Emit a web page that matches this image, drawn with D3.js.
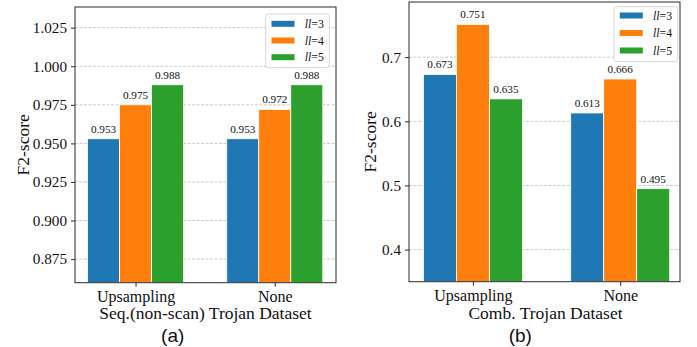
<!DOCTYPE html>
<html>
<head>
<meta charset="utf-8">
<script src="https://cdn.jsdelivr.net/npm/d3@7"></script>
<style>
  html, body { margin: 0; padding: 0; background: #fff; }
  svg { display: block; }
</style>
</head>
<body>
<svg id="chart" width="697" height="347"></svg>
<script>
// ---- data ----
const categories = ["Upsampling", "None"];
const seriesNames = ["3", "4", "5"];            // ll = 3,4,5
const seriesColors = ["#1f77b4", "#ff7f0e", "#2ca02c"];

const seqLL3 = [0.953, 0.953];
const seqLL4 = [0.975, 0.972];
const seqLL5 = [0.988, 0.988];
const seqTicks = [0.875, 0.900, 0.925, 0.950, 0.975, 1.000, 1.025];

const combLL3 = [0.673, 0.613];
const combLL4 = [0.751, 0.666];
const combLL5 = [0.635, 0.495];
const combTicks = [0.4, 0.5, 0.6, 0.7];

const svg = d3.select("#chart");
const serif = "'Liberation Serif','Times New Roman',serif";
const sans = "'Liberation Sans',Arial,sans-serif";

function drawPanel(cfg) {
  const g = svg.append("g");
  const x = d3.scaleLinear().domain(cfg.xDomain).range([cfg.left, cfg.right]);
  const y = d3.scaleLinear().domain(cfg.yDomain).range([cfg.bottom, cfg.top]);

  // grid
  g.append("g").selectAll("line").data(cfg.ticks).join("line")
    .attr("x1", cfg.left).attr("x2", cfg.right)
    .attr("y1", d => y(d)).attr("y2", d => y(d))
    .attr("stroke", "#c4c4c4").attr("stroke-width", 0.9)
    .attr("stroke-dasharray", "3,1.5");

  // bars
  const series = cfg.series;
  series.forEach((vals, si) => {
    const off = (si - 1) * cfg.barW;
    g.append("g").selectAll("rect").data(vals).join("rect")
      .attr("x", (d, i) => x(i + off - cfg.barW / 2))
      .attr("width", x(cfg.barW) - x(0))
      .attr("y", d => y(d))
      .attr("height", d => cfg.bottom - y(d))
      .attr("fill", seriesColors[si])
      .attr("stroke", "#fff").attr("stroke-width", 0.8);
    g.append("g").selectAll("text").data(vals).join("text")
      .attr("x", (d, i) => x(i + off))
      .attr("y", d => y(d) - 6)
      .attr("text-anchor", "middle")
      .attr("font-family", serif).attr("font-size", 11.2)
      .attr("fill", "#111")
      .text(d => cfg.fmtVal(d));
  });

  // frame
  g.append("rect").attr("x", cfg.left).attr("y", cfg.top)
    .attr("width", cfg.right - cfg.left).attr("height", cfg.bottom - cfg.top)
    .attr("fill", "none").attr("stroke", "#2a2a2a").attr("stroke-width", 1);

  // y axis
  const ya = d3.axisLeft(y).tickValues(cfg.ticks).tickFormat(cfg.fmtTick)
    .tickSize(4).tickPadding(4);
  const yg = g.append("g").attr("transform", `translate(${cfg.left},0)`).call(ya);
  yg.select(".domain").remove();
  yg.selectAll(".tick line").attr("stroke", "#2a2a2a");
  yg.selectAll("text").attr("font-family", serif).attr("font-size", 15.2).attr("fill", "#111");

  // x axis
  const xa = d3.axisBottom(x).tickValues([0, 1]).tickFormat(i => categories[i])
    .tickSize(4).tickPadding(4);
  const xg = g.append("g").attr("transform", `translate(0,${cfg.bottom})`).call(xa);
  xg.select(".domain").remove();
  xg.selectAll(".tick line").attr("stroke", "#2a2a2a");
  xg.selectAll("text").attr("font-family", serif).attr("font-size", 16).attr("fill", "#111")
    .attr("dy", null).attr("y", 19);

  // axis labels
  g.append("text")
    .attr("transform", `translate(${cfg.yLabelX},${(cfg.top + cfg.bottom) / 2}) rotate(-90)`)
    .attr("text-anchor", "middle")
    .attr("font-family", serif).attr("font-size", 17.5).attr("fill", "#111")
    .text("F2-score");
  g.append("text")
    .attr("x", cfg.xLabelX).attr("y", 319)
    .attr("text-anchor", "middle")
    .attr("font-family", serif).attr("font-size", 17.5).attr("fill", "#111")
    .text(cfg.xLabel);
  g.append("text")
    .attr("x", cfg.capX).attr("y", 341.5)
    .attr("text-anchor", "middle")
    .attr("font-family", sans).attr("font-size", 19).attr("fill", "#111")
    .text(cfg.caption);

  // legend
  const L = cfg.legend;
  g.append("rect").attr("x", L.x).attr("y", L.y).attr("width", L.w).attr("height", L.h)
    .attr("rx", 2.5).attr("fill", "#fff").attr("fill-opacity", 0.85)
    .attr("stroke", "#d6d6d6").attr("stroke-width", 1);
  seriesNames.forEach((s, i) => {
    const cy = L.y + L.first + i * L.step;
    g.append("rect").attr("x", L.x + 5.8).attr("y", cy - 3).attr("width", 23).attr("height", 6)
      .attr("fill", seriesColors[i]);
    const t = g.append("text").attr("x", L.x + 39).attr("y", cy + 4)
      .attr("font-family", serif).attr("font-size", 11.8).attr("fill", "#111");
    t.append("tspan").attr("font-style", "italic").text("ll");
    t.append("tspan").text("=" + s);
  });
}

drawPanel({
  left: 75, right: 336, top: 7, bottom: 282.7,
  xDomain: [-0.435, 1.44], yDomain: [0.8597, 1.0384], barW: 0.23,
  ticks: seqTicks, fmtTick: d3.format(".3f"), fmtVal: d3.format(".3f"),
  series: [seqLL3, seqLL4, seqLL5],
  yLabelX: 28.5, xLabelX: 205.5, xLabel: "Seq.(non-scan) Trojan Dataset",
  capX: 172.7, caption: "(a)",
  legend: { x: 265.7, y: 14, w: 63.6, h: 53.7, first: 9.8, step: 16.7 }
});

drawPanel({
  left: 409, right: 680, top: 2, bottom: 281.7,
  xDomain: [-0.434, 1.406], yDomain: [0.350, 0.786], barW: 0.224,
  ticks: combTicks, fmtTick: d3.format(".1f"), fmtVal: d3.format(".3f"),
  series: [combLL3, combLL4, combLL5],
  yLabelX: 376, xLabelX: 545.5, xLabel: "Comb. Trojan Dataset",
  capX: 520.3, caption: "(b)",
  legend: { x: 614, y: 6.7, w: 63.7, h: 55, first: 8.8, step: 17.5 }
});
</script>
</body>
</html>
